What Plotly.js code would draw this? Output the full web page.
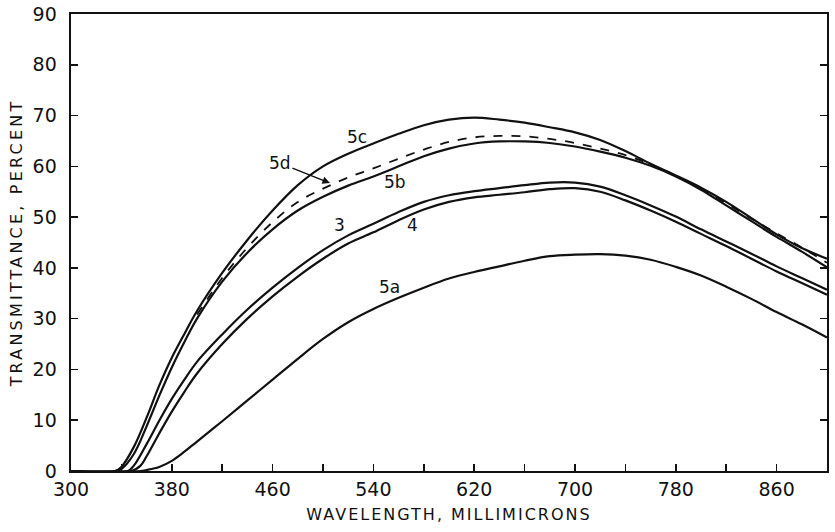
<!DOCTYPE html>
<html>
<head>
<meta charset="utf-8">
<script src="https://cdn.plot.ly/plotly-3.0.1.min.js"></script>
<style>
html,body{margin:0;padding:0;background:#fff;}
#chart{width:835px;height:532px;}
#chart text.ytitle{letter-spacing:3.2px;}
#chart text.xtitle{letter-spacing:2px;}
</style>
</head>
<body>
<div id="chart"></div>
<script>
// Wavelength (millimicrons) and transmittance (percent)
const wl5c = [300,335,340,350,360,370,380,390,400,420,440,460,480,500,520,540,560,580,600,620,640,660,680,700,720,740,760,780,800,820,840,860,880,900];
const t5c  = [0,0,0.8,4.8,10.5,16.8,22.3,27,31.5,39,45.5,51.3,56.3,60,62.5,64.5,66.4,68.1,69.2,69.6,69.2,68.6,67.7,66.7,65.2,63,60.5,58.2,55.8,53,49.8,46.6,43.9,41.8];

const wl5b = [300,335,340,350,360,370,380,390,400,420,440,460,480,500,520,540,560,580,600,620,640,660,680,700,720,740,760,780,800,820,840,860,880,900];
const t5b  = [0,0,0.4,3.4,8.8,14.8,20.4,25.4,30,37.3,43,47.6,51.3,54,56.2,58,60,62,63.5,64.5,64.9,64.9,64.6,63.9,62.9,61.7,60.1,58,55.4,52.3,49.2,46.1,43.2,40.1];

const wl5d = [400,420,440,460,480,500,520,540,560,580,600,620,640,660,680,700,720,740,760,780,800,820,840,860,880,900];
const t5d  = [30.8,38,44,49,53,55.6,57.8,59.6,61.5,63.3,64.8,65.7,66,65.9,65.4,64.6,63.5,62.2,60.4,58.1,55.6,52.7,49.7,46.8,44,41];

const wl3 = [300,345,350,360,370,380,390,400,420,440,460,480,500,520,540,560,580,600,620,640,660,680,700,720,740,760,780,800,820,840,860,880,900];
const t3  = [0,0,1.1,5.3,9.9,14.2,18,21.5,26.9,31.8,36.1,40,43.5,46.4,48.7,51,53,54.3,55.1,55.7,56.3,56.8,56.8,56,54.3,52.3,50.1,47.6,45.2,42.8,40.3,38,35.7];

const wl4 = [300,348,355,360,370,380,390,400,420,440,460,480,500,520,540,560,580,600,620,640,660,680,700,720,740,760,780,800,820,840,860,880,900];
const t4  = [0,0,1,2.9,7.4,11.7,15.6,19.2,25,30,34.4,38.3,41.8,44.8,47,49.4,51.5,53,53.9,54.4,54.9,55.5,55.7,55,53.3,51.3,49.1,46.7,44.3,41.8,39.3,37,34.7];

const wl5a = [300,355,360,370,380,390,400,420,440,460,480,500,520,540,560,580,600,620,640,660,680,700,720,740,760,780,800,820,840,860,880,900];
const t5a  = [0,0,0.2,0.8,2,3.8,5.8,9.8,13.9,18,22.1,26,29.3,31.9,34.1,36.1,37.9,39.2,40.3,41.4,42.3,42.6,42.7,42.4,41.6,40.2,38.5,36.3,33.9,31.3,28.9,26.3];

const xTickVals = [300,340,380,420,460,500,540,580,620,660,700,740,780,820,860,900];
const xTickText = ['300','','380','','460','','540','','620','','700','','780','','860',''];
const yTickVals = [0,10,20,30,40,50,60,70,80,90];
const yTickText = ['0','10','20','30','40','50','60','70','80','90'];

const FONT = 'DejaVu Sans, Liberation Sans, sans-serif';
const solid = {color:'#111', width:2.2, shape:'spline', smoothing:1};

const traces = [
  {x:wl5c, y:t5c, mode:'lines', line:solid, name:'5c'},
  {x:wl5b, y:t5b, mode:'lines', line:solid, name:'5b'},
  {x:wl5d, y:t5d, mode:'lines', line:{color:'#111', width:1.8, dash:'dash', shape:'spline', smoothing:1}, name:'5d'},
  {x:wl3, y:t3, mode:'lines', line:solid, name:'3'},
  {x:wl4, y:t4, mode:'lines', line:solid, name:'4'},
  {x:wl5a, y:t5a, mode:'lines', line:solid, name:'5a'}
];

const labFont = {family:FONT, size:17, color:'#111'};
const annotations = [
  {x:526.7, y:65.8, text:'5c', showarrow:false, font:labFont},
  {x:557, y:57.0, text:'5b', showarrow:false, font:labFont},
  {x:513.4, y:48.4, text:'3', showarrow:false, font:labFont},
  {x:571.3, y:48.4, text:'4', showarrow:false, font:labFont},
  {x:553, y:36.2, text:'5a', showarrow:false, font:labFont},
  {x:505.5, y:56.7, text:'5d', showarrow:true, arrowhead:2, arrowsize:1, arrowwidth:1.5, arrowcolor:'#111', ax:-50, ay:-20, font:labFont}
];

const layout = {
  width:835, height:532,
  margin:{l:71, r:8, t:14, b:61},
  paper_bgcolor:'#fff', plot_bgcolor:'#fff',
  showlegend:false,
  font:{family:FONT, color:'#111'},
  xaxis:{
    range:[300,900], tickmode:'array', tickvals:xTickVals, ticktext:xTickText,
    ticks:'inside', ticklen:7, tickwidth:1.5, tickcolor:'#111',
    showline:true, linecolor:'#111', linewidth:2.2, mirror:true,
    showgrid:false, zeroline:false,
    tickfont:{family:FONT, size:19, color:'#111'},
    title:{text:'WAVELENGTH, MILLIMICRONS', font:{family:FONT, size:16, color:'#111'}, standoff:10}
  },
  yaxis:{
    range:[0,90], tickmode:'array', tickvals:yTickVals, ticktext:yTickText,
    ticks:'inside', ticklen:7, tickwidth:1.5, tickcolor:'#111',
    showline:true, linecolor:'#111', linewidth:2.4, mirror:'ticks',
    showgrid:false, zeroline:false, ticklabelstandoff:8,
    tickfont:{family:FONT, size:19, color:'#111'},
    title:{text:'TRANSMITTANCE, PERCENT', font:{family:FONT, size:16, color:'#111'}, standoff:6}
  },
  annotations:annotations
};

Plotly.newPlot('chart', traces, layout, {displayModeBar:false, staticPlot:true});
</script>
</body>
</html>
